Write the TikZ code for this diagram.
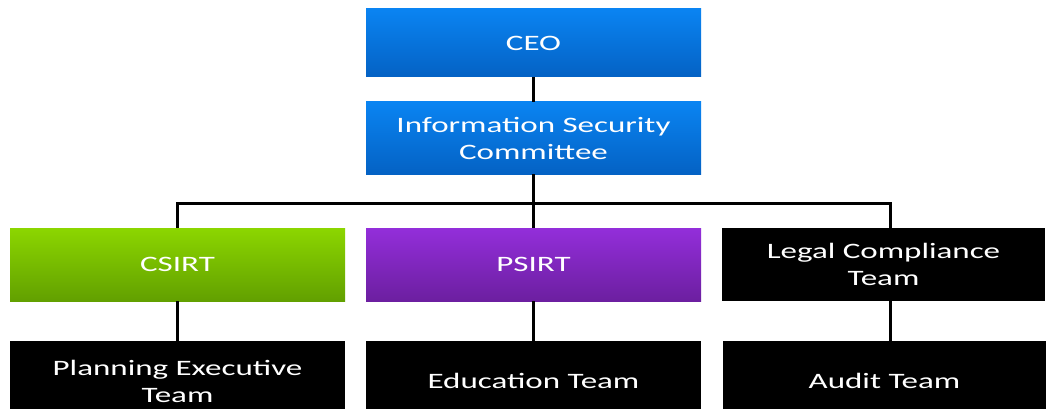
\documentclass[tikz,border=0pt]{standalone}
\usepackage{fontspec}
\setmainfont{Carlito}[FakeStretch=1.5]
\begin{document}
\begin{tikzpicture}[x=1pt,y=-1pt,
  box/.style={draw=none,minimum width=335pt,minimum height=72pt,text=white,align=center,inner sep=0pt,
    font=\fontsize{22}{27}\selectfont},
  bluebox/.style={box,top color=blue1,bottom color=blue2},
  greenbox/.style={box,top color=green1,bottom color=green2},
  purplebox/.style={box,top color=purple1,bottom color=purple2},
  blackbox/.style={box,fill=black},
  link/.style={line width=3pt,black}]
\definecolor{blue1}{HTML}{0A84F2}
\definecolor{blue2}{HTML}{0462C4}
\definecolor{green1}{HTML}{8CD600}
\definecolor{green2}{HTML}{62A000}
\definecolor{purple1}{HTML}{932EDA}
\definecolor{purple2}{HTML}{6C1FA0}
\useasboundingbox[fill=white] (0,0) rectangle (1046,409);
\node[bluebox,minimum height=68pt] (ceo) at (533.5,43) {CEO};
\node[bluebox] (isc) at (533.5,138) {Information Security\\Committee};
\node[greenbox,minimum height=73pt] (csirt) at (177.5,264.5) {CSIRT};
\node[purplebox,minimum height=73pt] (psirt) at (533.5,264.5) {PSIRT};
\node[blackbox,minimum height=73pt,minimum width=323pt] (legal) at (883.5,264.5) {Legal Compliance\\Team};
\node[blackbox,minimum height=80pt] (plan) at (177.5,381) {Planning Executive\\Team};
\node[blackbox,minimum height=80pt] (edu) at (533.5,381) {Education Team};
\node[blackbox,minimum height=80pt,minimum width=323pt] (audit) at (884.5,381) {Audit Team};
\coordinate (bus) at (533.5,203);
\draw[link] (ceo.south) -- (isc.north);
\draw[link] (isc.south) -- (psirt.north);
\draw[link] (csirt.north) |- (bus) -| (legal.north -| 890,0);
\draw[link] (csirt.south) -- (plan.north);
\draw[link] (psirt.south) -- (edu.north);
\draw[link] (legal.south -| 890,0) -- (audit.north -| 890,0);
\end{tikzpicture}
\end{document}
